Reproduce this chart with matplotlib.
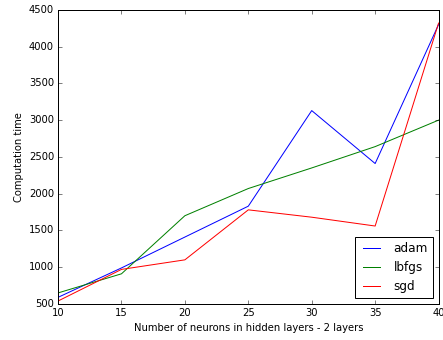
import matplotlib
matplotlib.use('Agg')
import matplotlib.pyplot as plt

neurons = [10, 15, 20, 25, 30, 35, 40]
adam = [590, 990, 1410, 1830, 3130, 2410, 4300]
lbfgs = [650, 910, 1700, 2070, 2350, 2640, 3000]
sgd = [540, 970, 1100, 1780, 1680, 1560, 4320]

plt.style.use('classic')
plt.rcParams['figure.facecolor'] = 'white'
plt.rcParams['savefig.facecolor'] = 'white'

fig = plt.figure(figsize=(443 / 72, 340 / 72), dpi=72)
ax = fig.add_axes([0.131, 0.106, 0.859, 0.865])

ax.plot(neurons, adam, 'b-', label='adam')
ax.plot(neurons, lbfgs, 'g-', label='lbfgs')
ax.plot(neurons, sgd, 'r-', label='sgd')

ax.set_xlim(10, 40)
ax.set_ylim(500, 4500)
ax.tick_params(labelsize=10)
ax.set_xlabel('Number of neurons in hidden layers - 2 layers', fontsize=10)
ax.set_ylabel('Computation time', fontsize=10)
ax.legend(loc='lower right', fontsize=12)

fig.savefig('out.png', dpi=72)
